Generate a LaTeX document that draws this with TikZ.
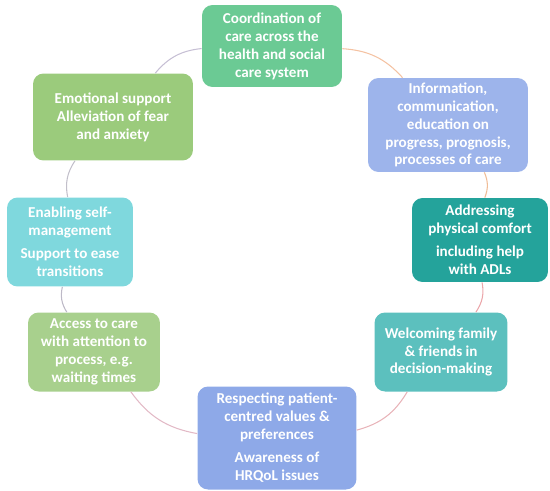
\documentclass[tikz,border=0pt]{standalone}
\usepackage{fontspec}
\setmainfont{Carlito}
\usetikzlibrary{positioning}
\definecolor{cgreen}{HTML}{6BCA94}
\definecolor{cblue}{HTML}{9DB4EB}
\definecolor{cteal}{HTML}{24A39B}
\definecolor{cteallt}{HTML}{5CC0BE}
\definecolor{cperi}{HTML}{8EA9E8}
\definecolor{clime}{HTML}{A8D08D}
\definecolor{ccyan}{HTML}{7FD8DD}
\definecolor{cleaf}{HTML}{9BCB7C}
\definecolor{arcA}{HTML}{F4C2A2}
\definecolor{arcB}{HTML}{F0BC96}
\definecolor{arcC}{HTML}{EBA6AA}
\definecolor{arcD}{HTML}{E8B3B8}
\definecolor{arcE}{HTML}{E2B9C6}
\definecolor{arcF}{HTML}{BDB9C7}
\definecolor{arcG}{HTML}{C2BFCA}
\definecolor{arcH}{HTML}{C6BFD4}
\tikzset{
  carebox/.style = { rectangle, rounded corners=6pt, fill=#1, text=white,
    align=center, inner sep=1pt, font=\bfseries\fontsize{8.6}{10.2}\selectfont },
  ring/.style    = { line width=0.6pt, draw=#1 }
}

\begin{document}
\begin{tikzpicture}[x=0.02cm,y=-0.02cm]
    \useasboundingbox (0,0) rectangle (550,490);
    \node[carebox=cgreen, minimum width=2.8cm, minimum height=1.64cm] (b1) at (272,46)
      {Coordination of\\care across the\\health and social\\care system};
    \node[carebox=cblue, minimum width=3.2cm, minimum height=1.88cm] (b2) at (448,125)
      {Information,\\communication,\\education on\\progress, prognosis,\\processes of care};
    \node[carebox=cteal, minimum width=2.72cm, minimum height=1.68cm] (b3) at (480,240)
      {Addressing\\physical comfort\\[3pt]including help\\with ADLs};
    \node[carebox=cteallt, minimum width=2.66cm, minimum height=1.58cm] (b4) at (441,352)
      {Welcoming family\\\& friends in\\decision-making};
    \node[carebox=cperi, minimum width=3.18cm, minimum height=2.06cm] (b5) at (277,438)
      {Respecting patient-\\centred values \&\\preferences\\[3pt]Awareness of\\HRQoL issues};
    \node[carebox=clime, minimum width=2.64cm, minimum height=1.58cm] (b6) at (94,352)
      {Access to care\\with attention to\\process, e.g.\\waiting times};
    \node[carebox=ccyan, minimum width=2.52cm, minimum height=1.78cm] (b7) at (70,242)
      {Enabling self-\\management\\[3pt]Support to ease\\transitions};
    \node[carebox=cleaf, minimum width=3.2cm, minimum height=1.74cm] (b8) at (113,117)
      {Emotional support\\Alleviation of fear\\and anxiety};
    % the ring between the boxes
    \path (b1) edge[ring=arcA, bend left=22] (b2);
    \path (b2) edge[ring=arcB, bend left=22] (b3);
    \path (b3) edge[ring=arcC, bend left=22] (b4);
    \path (b4) edge[ring=arcD, bend left=22] (b5);
    \path (b5) edge[ring=arcE, bend left=22] (b6);
    \path (b6) edge[ring=arcF, bend left=22] (b7);
    \path (b7) edge[ring=arcG, bend left=22] (b8);
    \path (b8) edge[ring=arcH, bend left=22] (b1);
\end{tikzpicture}
\end{document}
